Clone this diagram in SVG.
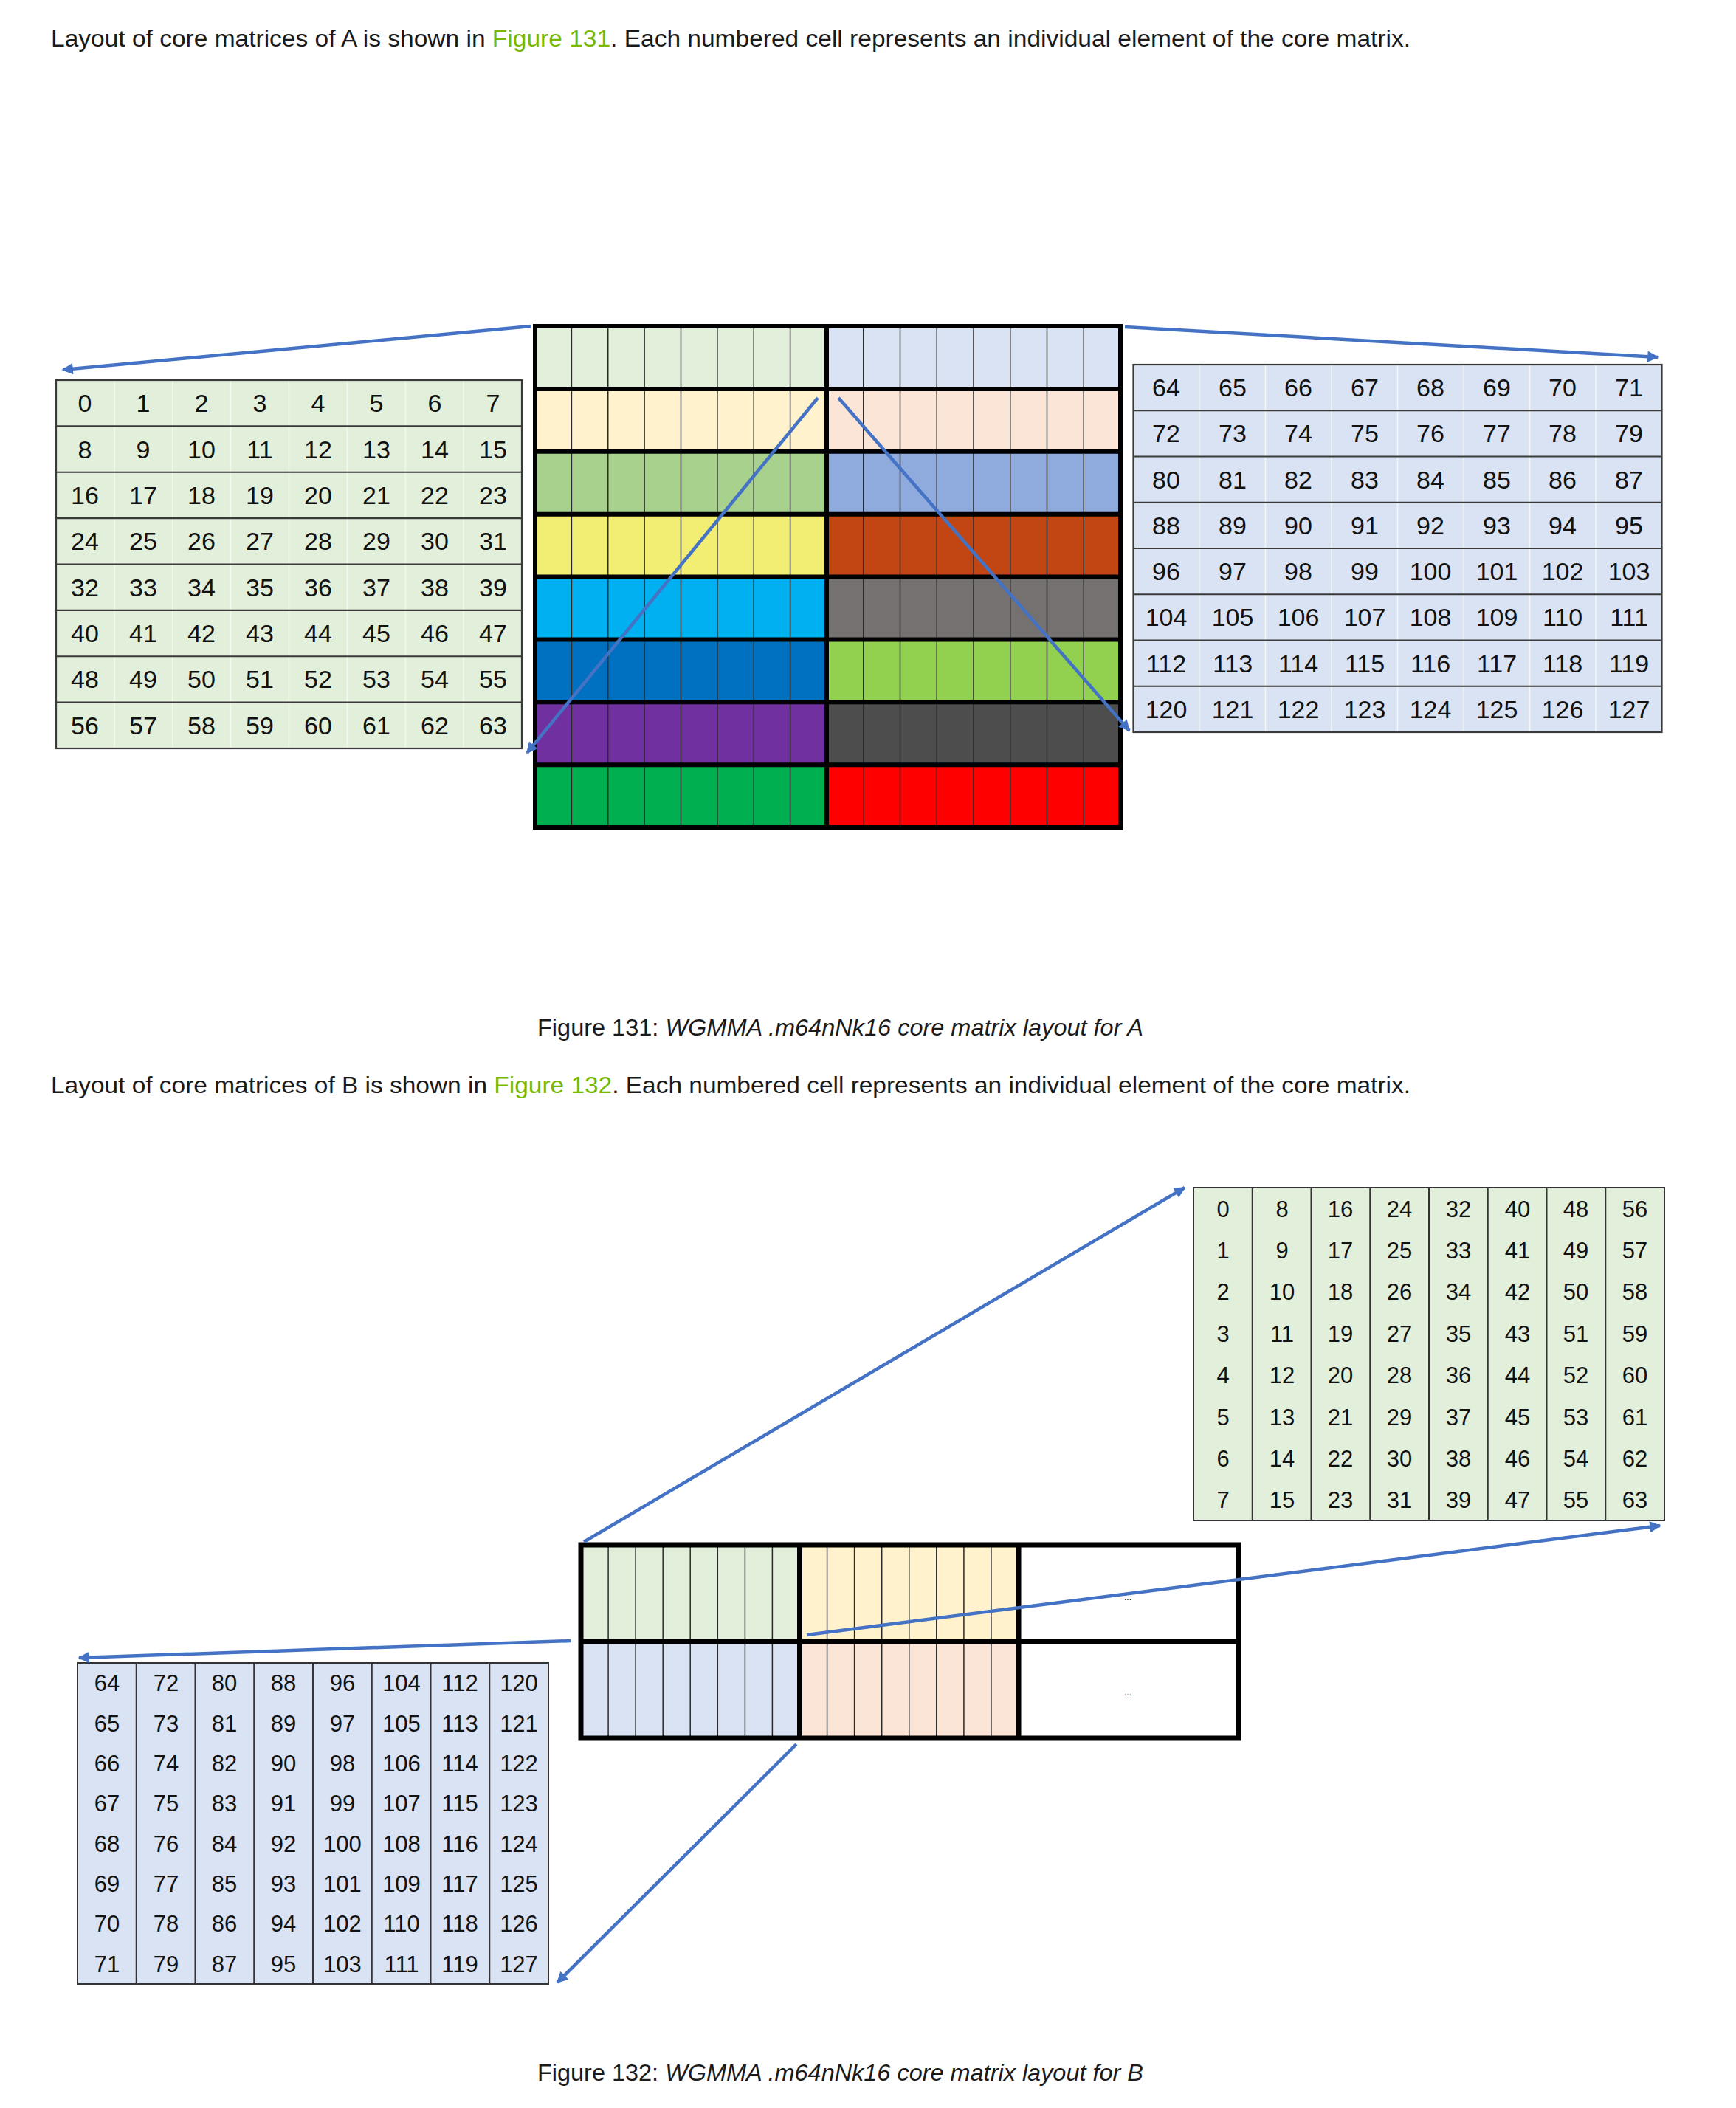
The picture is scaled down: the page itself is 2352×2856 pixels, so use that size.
<svg xmlns="http://www.w3.org/2000/svg" width="2352" height="2856" viewBox="0 0 2352 2856">
<style>
.prose{font-family:"Liberation Sans",Arial,sans-serif;font-size:31px;fill:#1a1a1a}
.link{fill:#76B900}
.it{font-style:italic}
.num{font-family:"Liberation Sans",Arial,sans-serif;text-anchor:middle;fill:#111}
.nA{font-size:34px}
.nB{font-size:31px}
.thin{stroke:#2a2a2a;stroke-width:1.5;fill:none}
.thick{stroke:#000;stroke-width:6;fill:none}
.thickB{stroke:#000;stroke-width:7;fill:none}
.hl{stroke:#3a3a3a;stroke-width:2.2;fill:none}
.wl{stroke:#f4f8f1;stroke-width:1.5;fill:none}
.vl{stroke:#333;stroke-width:2;fill:none}
.arrow{stroke:#4472C4;stroke-width:4.5;fill:none;marker-end:url(#ah)}
.dots{font-family:"Liberation Sans",Arial,sans-serif;font-size:12px;text-anchor:middle;fill:#000}
</style>
<defs>
<marker id="ah" viewBox="0 0 10 10" refX="9" refY="5" markerWidth="3.8" markerHeight="3.4" orient="auto" markerUnits="strokeWidth">
<path d="M0,0 L10,5 L0,10 z" fill="#4472C4"/>
</marker>
</defs>
<rect width="2352" height="2856" fill="#fff"/>

<g id="text-para-A">
<text class="prose" x="69" y="63" textLength="1842" lengthAdjust="spacingAndGlyphs">Layout of core matrices of A is shown in <tspan class="link">Figure 131</tspan>. Each numbered cell represents an individual element of the core matrix.</text>
</g>

<g id="tableA-left">
<rect x="76" y="515" width="631" height="499" fill="#E2EFDA"/>
<path class="wl" d="M154.9 515V1014M233.75 515V1014M312.6 515V1014M391.5 515V1014M470.4 515V1014M549.25 515V1014M628.1 515V1014"/>
<path class="hl" d="M76 577.4H707M76 639.75H707M76 702.1H707M76 764.5H707M76 826.9H707M76 889.25H707M76 951.6H707"/>
<rect x="76" y="515" width="631" height="499" class="hl"/>
<g class="num nA">
<text y="558"><tspan x="115">0</tspan><tspan x="194">1</tspan><tspan x="273">2</tspan><tspan x="352">3</tspan><tspan x="431">4</tspan><tspan x="510">5</tspan><tspan x="589">6</tspan><tspan x="668">7</tspan></text>
<text y="621"><tspan x="115">8</tspan><tspan x="194">9</tspan><tspan x="273">10</tspan><tspan x="352">11</tspan><tspan x="431">12</tspan><tspan x="510">13</tspan><tspan x="589">14</tspan><tspan x="668">15</tspan></text>
<text y="683"><tspan x="115">16</tspan><tspan x="194">17</tspan><tspan x="273">18</tspan><tspan x="352">19</tspan><tspan x="431">20</tspan><tspan x="510">21</tspan><tspan x="589">22</tspan><tspan x="668">23</tspan></text>
<text y="745"><tspan x="115">24</tspan><tspan x="194">25</tspan><tspan x="273">26</tspan><tspan x="352">27</tspan><tspan x="431">28</tspan><tspan x="510">29</tspan><tspan x="589">30</tspan><tspan x="668">31</tspan></text>
<text y="808"><tspan x="115">32</tspan><tspan x="194">33</tspan><tspan x="273">34</tspan><tspan x="352">35</tspan><tspan x="431">36</tspan><tspan x="510">37</tspan><tspan x="589">38</tspan><tspan x="668">39</tspan></text>
<text y="870"><tspan x="115">40</tspan><tspan x="194">41</tspan><tspan x="273">42</tspan><tspan x="352">43</tspan><tspan x="431">44</tspan><tspan x="510">45</tspan><tspan x="589">46</tspan><tspan x="668">47</tspan></text>
<text y="932"><tspan x="115">48</tspan><tspan x="194">49</tspan><tspan x="273">50</tspan><tspan x="352">51</tspan><tspan x="431">52</tspan><tspan x="510">53</tspan><tspan x="589">54</tspan><tspan x="668">55</tspan></text>
<text y="995"><tspan x="115">56</tspan><tspan x="194">57</tspan><tspan x="273">58</tspan><tspan x="352">59</tspan><tspan x="431">60</tspan><tspan x="510">61</tspan><tspan x="589">62</tspan><tspan x="668">63</tspan></text>
</g>
</g>

<g id="matrixA">
<rect x="725" y="442" width="395" height="84.875" fill="#E2EFDA"/>
<rect x="725" y="526.875" width="395" height="84.875" fill="#FFF2CC"/>
<rect x="725" y="611.75" width="395" height="84.875" fill="#A9D18E"/>
<rect x="725" y="696.625" width="395" height="84.875" fill="#F2ED73"/>
<rect x="725" y="781.5" width="395" height="84.875" fill="#00B0F0"/>
<rect x="725" y="866.375" width="395" height="84.875" fill="#0070C0"/>
<rect x="725" y="951.25" width="395" height="84.875" fill="#7030A0"/>
<rect x="725" y="1036.125" width="395" height="84.875" fill="#00B050"/>
<rect x="1120" y="442" width="398" height="84.875" fill="#DAE3F3"/>
<rect x="1120" y="526.875" width="398" height="84.875" fill="#FBE5D6"/>
<rect x="1120" y="611.75" width="398" height="84.875" fill="#8FAADC"/>
<rect x="1120" y="696.625" width="398" height="84.875" fill="#C14614"/>
<rect x="1120" y="781.5" width="398" height="84.875" fill="#767171"/>
<rect x="1120" y="866.375" width="398" height="84.875" fill="#92D050"/>
<rect x="1120" y="951.25" width="398" height="84.875" fill="#4D4D4D"/>
<rect x="1120" y="1036.125" width="398" height="84.875" fill="#FF0000"/>
<path class="thin" d="M774.4 439V1124M823.75 439V1124M873.1 439V1124M922.5 439V1124M971.9 439V1124M1021.25 439V1124M1070.6 439V1124M1169.75 439V1124M1219.5 439V1124M1269.25 439V1124M1319 439V1124M1368.75 439V1124M1418.5 439V1124M1468.25 439V1124"/>
<path class="thick" d="M725 526.875H1518M725 611.75H1518M725 696.625H1518M725 781.5H1518M725 866.375H1518M725 951.25H1518M725 1036.125H1518M1120 442V1121"/>
<rect x="725" y="442" width="793" height="679" class="thick"/>
</g>

<g id="tableA-right">
<rect x="1535.5" y="494" width="716" height="498" fill="#DAE3F3"/>
<path class="wl" d="M1625 494V992M1714.5 494V992M1804 494V992M1893.5 494V992M1983 494V992M2072.5 494V992M2162 494V992"/>
<path class="hl" d="M1535.5 556.25H2251.5M1535.5 618.5H2251.5M1535.5 680.75H2251.5M1535.5 743H2251.5M1535.5 805.25H2251.5M1535.5 867.5H2251.5M1535.5 929.75H2251.5"/>
<rect x="1535.5" y="494" width="716" height="498" class="hl"/>
<g class="num nA">
<text y="537"><tspan x="1580">64</tspan><tspan x="1670">65</tspan><tspan x="1759">66</tspan><tspan x="1849">67</tspan><tspan x="1938">68</tspan><tspan x="2028">69</tspan><tspan x="2117">70</tspan><tspan x="2207">71</tspan></text>
<text y="599"><tspan x="1580">72</tspan><tspan x="1670">73</tspan><tspan x="1759">74</tspan><tspan x="1849">75</tspan><tspan x="1938">76</tspan><tspan x="2028">77</tspan><tspan x="2117">78</tspan><tspan x="2207">79</tspan></text>
<text y="662"><tspan x="1580">80</tspan><tspan x="1670">81</tspan><tspan x="1759">82</tspan><tspan x="1849">83</tspan><tspan x="1938">84</tspan><tspan x="2028">85</tspan><tspan x="2117">86</tspan><tspan x="2207">87</tspan></text>
<text y="724"><tspan x="1580">88</tspan><tspan x="1670">89</tspan><tspan x="1759">90</tspan><tspan x="1849">91</tspan><tspan x="1938">92</tspan><tspan x="2028">93</tspan><tspan x="2117">94</tspan><tspan x="2207">95</tspan></text>
<text y="786"><tspan x="1580">96</tspan><tspan x="1670">97</tspan><tspan x="1759">98</tspan><tspan x="1849">99</tspan><tspan x="1938">100</tspan><tspan x="2028">101</tspan><tspan x="2117">102</tspan><tspan x="2207">103</tspan></text>
<text y="848"><tspan x="1580">104</tspan><tspan x="1670">105</tspan><tspan x="1759">106</tspan><tspan x="1849">107</tspan><tspan x="1938">108</tspan><tspan x="2028">109</tspan><tspan x="2117">110</tspan><tspan x="2207">111</tspan></text>
<text y="911"><tspan x="1580">112</tspan><tspan x="1670">113</tspan><tspan x="1759">114</tspan><tspan x="1849">115</tspan><tspan x="1938">116</tspan><tspan x="2028">117</tspan><tspan x="2117">118</tspan><tspan x="2207">119</tspan></text>
<text y="973"><tspan x="1580">120</tspan><tspan x="1670">121</tspan><tspan x="1759">122</tspan><tspan x="1849">123</tspan><tspan x="1938">124</tspan><tspan x="2028">125</tspan><tspan x="2117">126</tspan><tspan x="2207">127</tspan></text>
</g>
</g>

<g id="caption-A">
<text class="prose" x="728" y="1403" textLength="821" lengthAdjust="spacingAndGlyphs">Figure 131: <tspan class="it">WGMMA .m64nNk16 core matrix layout for A</tspan></text>
</g>

<g id="text-para-B">
<text class="prose" x="69" y="1481" textLength="1842" lengthAdjust="spacingAndGlyphs">Layout of core matrices of B is shown in <tspan class="link">Figure 132</tspan>. Each numbered cell represents an individual element of the core matrix.</text>
</g>

<g id="tableB-topright">
<rect x="1617" y="1609" width="638" height="451" fill="#E2EFDA"/>
<path class="vl" d="M1696.75 1609V2060M1776.5 1609V2060M1856.25 1609V2060M1936 1609V2060M2015.75 1609V2060M2095.5 1609V2060M2175.25 1609V2060"/>
<rect x="1617" y="1609" width="638" height="451" class="vl"/>
<g class="num nB">
<text y="1649"><tspan x="1657">0</tspan><tspan x="1737">8</tspan><tspan x="1816">16</tspan><tspan x="1896">24</tspan><tspan x="1976">32</tspan><tspan x="2056">40</tspan><tspan x="2135">48</tspan><tspan x="2215">56</tspan></text>
<text y="1705"><tspan x="1657">1</tspan><tspan x="1737">9</tspan><tspan x="1816">17</tspan><tspan x="1896">25</tspan><tspan x="1976">33</tspan><tspan x="2056">41</tspan><tspan x="2135">49</tspan><tspan x="2215">57</tspan></text>
<text y="1761"><tspan x="1657">2</tspan><tspan x="1737">10</tspan><tspan x="1816">18</tspan><tspan x="1896">26</tspan><tspan x="1976">34</tspan><tspan x="2056">42</tspan><tspan x="2135">50</tspan><tspan x="2215">58</tspan></text>
<text y="1818"><tspan x="1657">3</tspan><tspan x="1737">11</tspan><tspan x="1816">19</tspan><tspan x="1896">27</tspan><tspan x="1976">35</tspan><tspan x="2056">43</tspan><tspan x="2135">51</tspan><tspan x="2215">59</tspan></text>
<text y="1874"><tspan x="1657">4</tspan><tspan x="1737">12</tspan><tspan x="1816">20</tspan><tspan x="1896">28</tspan><tspan x="1976">36</tspan><tspan x="2056">44</tspan><tspan x="2135">52</tspan><tspan x="2215">60</tspan></text>
<text y="1931"><tspan x="1657">5</tspan><tspan x="1737">13</tspan><tspan x="1816">21</tspan><tspan x="1896">29</tspan><tspan x="1976">37</tspan><tspan x="2056">45</tspan><tspan x="2135">53</tspan><tspan x="2215">61</tspan></text>
<text y="1987"><tspan x="1657">6</tspan><tspan x="1737">14</tspan><tspan x="1816">22</tspan><tspan x="1896">30</tspan><tspan x="1976">38</tspan><tspan x="2056">46</tspan><tspan x="2135">54</tspan><tspan x="2215">62</tspan></text>
<text y="2043"><tspan x="1657">7</tspan><tspan x="1737">15</tspan><tspan x="1816">23</tspan><tspan x="1896">31</tspan><tspan x="1976">39</tspan><tspan x="2056">47</tspan><tspan x="2135">55</tspan><tspan x="2215">63</tspan></text>
</g>
</g>

<g id="matrixB">
<rect x="787" y="2093" width="296.5" height="131" fill="#E2EFDA"/>
<rect x="1083.5" y="2093" width="296.5" height="131" fill="#FFF2CC"/>
<rect x="787" y="2224" width="296.5" height="131" fill="#DAE3F3"/>
<rect x="1083.5" y="2224" width="296.5" height="131" fill="#FBE5D6"/>
<rect x="1380" y="2093" width="298" height="262" fill="#fff"/>
<path class="thin" d="M824.1 2090V2358M861.1 2090V2358M898.2 2090V2358M935.2 2090V2358M972.3 2090V2358M1009.4 2090V2358M1046.4 2090V2358M1120.6 2090V2358M1157.6 2090V2358M1194.7 2090V2358M1231.75 2090V2358M1268.8 2090V2358M1305.9 2090V2358M1342.9 2090V2358"/>
<path class="thickB" d="M787 2224H1678M1083.5 2093V2355M1380 2093V2355"/>
<rect x="787" y="2093" width="891" height="262" class="thickB"/>
<text class="dots" x="1528" y="2168">...</text>
<text class="dots" x="1528" y="2297">...</text>
</g>

<g id="tableB-bottomleft">
<rect x="105" y="2253" width="638" height="435" fill="#DAE3F3"/>
<path class="vl" d="M184.75 2253V2688M264.5 2253V2688M344.25 2253V2688M424 2253V2688M503.75 2253V2688M583.5 2253V2688M663.25 2253V2688"/>
<rect x="105" y="2253" width="638" height="435" class="vl"/>
<g class="num nB">
<text y="2291"><tspan x="145">64</tspan><tspan x="225">72</tspan><tspan x="304">80</tspan><tspan x="384">88</tspan><tspan x="464">96</tspan><tspan x="544">104</tspan><tspan x="623">112</tspan><tspan x="703">120</tspan></text>
<text y="2346"><tspan x="145">65</tspan><tspan x="225">73</tspan><tspan x="304">81</tspan><tspan x="384">89</tspan><tspan x="464">97</tspan><tspan x="544">105</tspan><tspan x="623">113</tspan><tspan x="703">121</tspan></text>
<text y="2400"><tspan x="145">66</tspan><tspan x="225">74</tspan><tspan x="304">82</tspan><tspan x="384">90</tspan><tspan x="464">98</tspan><tspan x="544">106</tspan><tspan x="623">114</tspan><tspan x="703">122</tspan></text>
<text y="2454"><tspan x="145">67</tspan><tspan x="225">75</tspan><tspan x="304">83</tspan><tspan x="384">91</tspan><tspan x="464">99</tspan><tspan x="544">107</tspan><tspan x="623">115</tspan><tspan x="703">123</tspan></text>
<text y="2509"><tspan x="145">68</tspan><tspan x="225">76</tspan><tspan x="304">84</tspan><tspan x="384">92</tspan><tspan x="464">100</tspan><tspan x="544">108</tspan><tspan x="623">116</tspan><tspan x="703">124</tspan></text>
<text y="2563"><tspan x="145">69</tspan><tspan x="225">77</tspan><tspan x="304">85</tspan><tspan x="384">93</tspan><tspan x="464">101</tspan><tspan x="544">109</tspan><tspan x="623">117</tspan><tspan x="703">125</tspan></text>
<text y="2617"><tspan x="145">70</tspan><tspan x="225">78</tspan><tspan x="304">86</tspan><tspan x="384">94</tspan><tspan x="464">102</tspan><tspan x="544">110</tspan><tspan x="623">118</tspan><tspan x="703">126</tspan></text>
<text y="2672"><tspan x="145">71</tspan><tspan x="225">79</tspan><tspan x="304">87</tspan><tspan x="384">95</tspan><tspan x="464">103</tspan><tspan x="544">111</tspan><tspan x="623">119</tspan><tspan x="703">127</tspan></text>
</g>
</g>

<g id="caption-B">
<text class="prose" x="728" y="2819" textLength="821" lengthAdjust="spacingAndGlyphs">Figure 132: <tspan class="it">WGMMA .m64nNk16 core matrix layout for B</tspan></text>
</g>

<g id="connectors">
<line class="arrow" x1="719" y1="442" x2="85" y2="501"/>
<line class="arrow" x1="1524" y1="443" x2="2246" y2="484"/>
<line class="arrow" x1="1108" y1="539" x2="714" y2="1020"/>
<line class="arrow" x1="1136" y1="539" x2="1530" y2="990"/>
<line class="arrow" x1="791" y1="2089" x2="1605" y2="1609"/>
<line class="arrow" x1="1093" y1="2215" x2="2249" y2="2067"/>
<line class="arrow" x1="773" y1="2223" x2="107" y2="2246"/>
<line class="arrow" x1="1079" y1="2363" x2="755" y2="2686"/>
</g>
</svg>
